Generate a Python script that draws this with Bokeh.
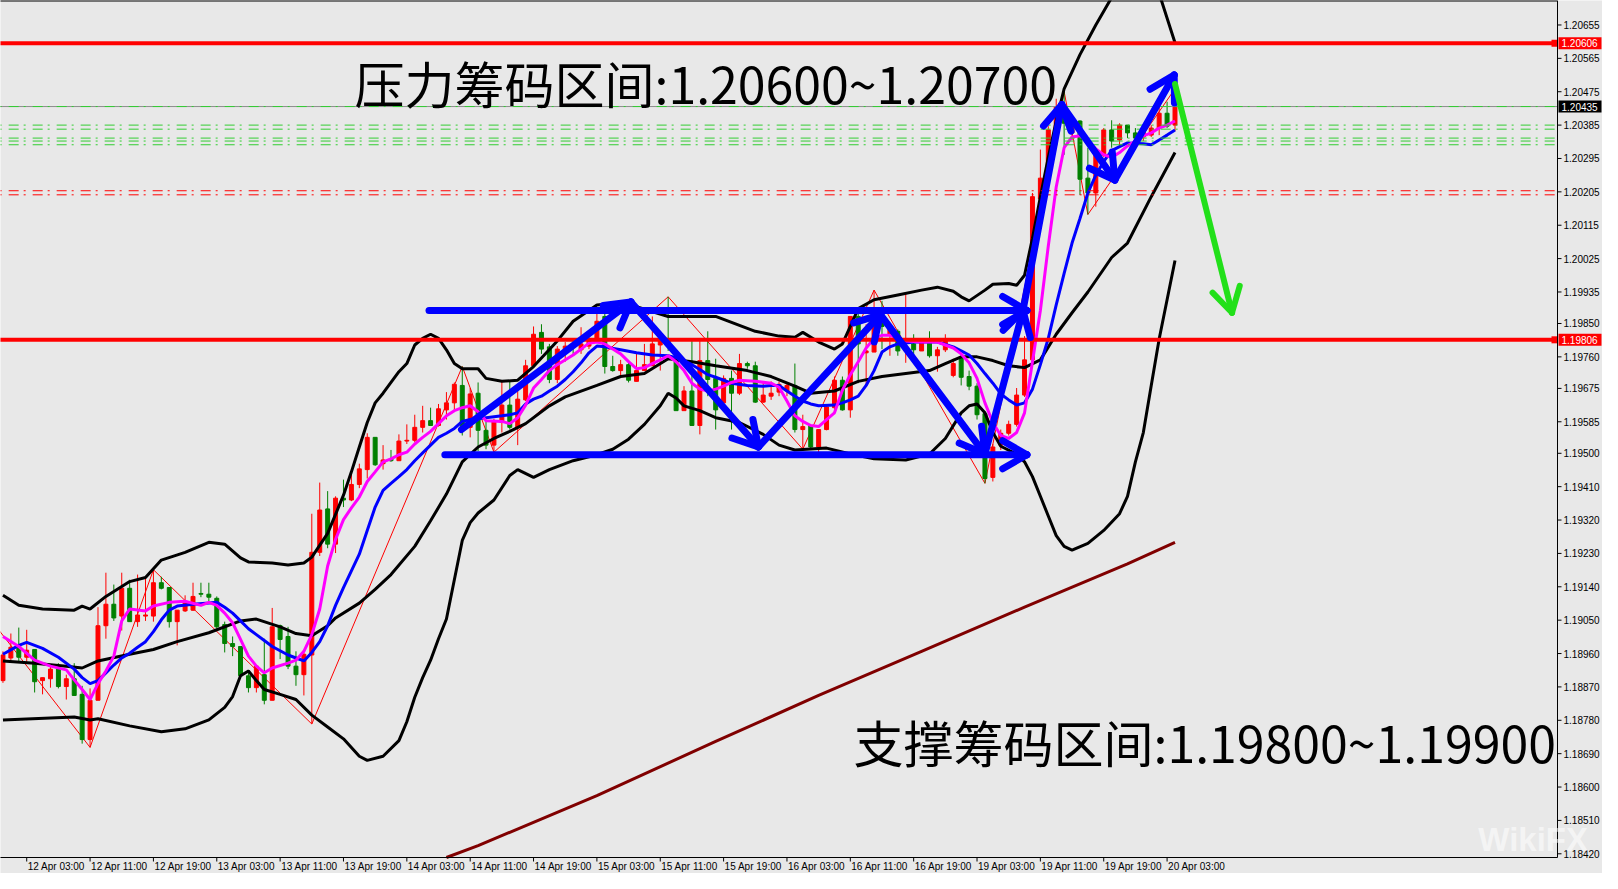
import math
from bokeh.plotting import figure
from bokeh.core.properties import value
from bokeh.embed import file_html
from bokeh.resources import INLINE

# ---------------- data (EURUSD H1) ----------------
x_tick_bars = [3, 11, 19, 27, 35, 43, 51, 59, 67, 75, 83, 91, 99, 107, 115, 123, 131, 139, 147]
x_tick_labels = ["12 Apr 03:00", "12 Apr 11:00", "12 Apr 19:00", "13 Apr 03:00",
                 "13 Apr 11:00", "13 Apr 19:00", "14 Apr 03:00", "14 Apr 11:00", "14 Apr 19:00",
                 "15 Apr 03:00", "15 Apr 11:00", "15 Apr 19:00", "16 Apr 03:00", "16 Apr 11:00",
                 "16 Apr 19:00", "19 Apr 03:00", "19 Apr 11:00", "19 Apr 19:00", "20 Apr 03:00"]
y_ticks = [1.20655, 1.20565, 1.20475, 1.20385, 1.20295, 1.20205, 1.20115, 1.20025, 1.19935,
           1.19850, 1.19760, 1.19675, 1.19585, 1.19500, 1.19410, 1.19320, 1.19230, 1.19140,
           1.19050, 1.18960, 1.18870, 1.18780, 1.18690, 1.18600, 1.18510, 1.18420]

opens = [1.18887, 1.18948, 1.18979, 1.18950, 1.18971, 1.18887, 1.18892, 1.18921, 1.18871, 1.18892,
         1.18850, 1.18728, 1.18834, 1.19035, 1.19093, 1.19061, 1.19136, 1.19046, 1.19061, 1.19061,
         1.19151, 1.19138, 1.19046, 1.19075, 1.19077, 1.19122, 1.19120, 1.19109, 1.19038, 1.18987,
         1.18979, 1.18900, 1.18868, 1.18903, 1.18834, 1.19035, 1.19006, 1.18926, 1.18903, 1.18956,
         1.19233, 1.19350, 1.19255, 1.19379, 1.19374, 1.19416, 1.19456, 1.19543, 1.19472, 1.19485,
         1.19480, 1.19533, 1.19535, 1.19570, 1.19588, 1.19575, 1.19617, 1.19636, 1.19683, 1.19570,
         1.19662, 1.19562, 1.19522, 1.19583, 1.19630, 1.19570, 1.19644, 1.19736, 1.19826, 1.19787,
         1.19699, 1.19773, 1.19795, 1.19779, 1.19789, 1.19808, 1.19869, 1.19734, 1.19723, 1.19739,
         1.19694, 1.19723, 1.19736, 1.19792, 1.19808, 1.19763, 1.19615, 1.19668, 1.19575, 1.19750,
         1.19702, 1.19636, 1.19702, 1.19662, 1.19742, 1.19736, 1.19638, 1.19654, 1.19665, 1.19668,
         1.19683, 1.19564, 1.19575, 1.19517, 1.19564, 1.19623, 1.19697, 1.19617, 1.19869, 1.19771,
         1.19773, 1.19893, 1.19821, 1.19829, 1.19776, 1.19795, 1.19776, 1.19800, 1.19763, 1.19779,
         1.19710, 1.19758, 1.19707, 1.19681, 1.19607, 1.19435, 1.19522, 1.19554, 1.19578, 1.19657,
         1.19752, 1.20186, 1.20242, 1.20372, 1.20435, 1.20364, 1.20396, 1.20242, 1.20202, 1.20303,
         1.20372, 1.20345, 1.20385, 1.20364, 1.20353, 1.20358, 1.20377, 1.20417, 1.20385]
highs = [1.18966, 1.19014, 1.19030, 1.19024, 1.18971, 1.18895, 1.18924, 1.18934, 1.18903, 1.18934,
         1.18873, 1.18866, 1.19085, 1.19178, 1.19146, 1.19178, 1.19159, 1.19173, 1.19162, 1.19186,
         1.19167, 1.19138, 1.19077, 1.19117, 1.19151, 1.19151, 1.19151, 1.19114, 1.19046, 1.19006,
         1.18979, 1.18916, 1.18929, 1.19000, 1.19083, 1.19038, 1.19032, 1.18966, 1.18966, 1.19337,
         1.19421, 1.19398, 1.19384, 1.19429, 1.19443, 1.19472, 1.19554, 1.19543, 1.19522, 1.19509,
         1.19551, 1.19578, 1.19604, 1.19628, 1.19623, 1.19633, 1.19665, 1.19691, 1.19734, 1.19676,
         1.19691, 1.19588, 1.19593, 1.19694, 1.19694, 1.19676, 1.19752, 1.19842, 1.19848, 1.19795,
         1.19789, 1.19800, 1.19808, 1.19840, 1.19816, 1.19879, 1.19877, 1.19763, 1.19752, 1.19750,
         1.19768, 1.19795, 1.19869, 1.19829, 1.19922, 1.19768, 1.19681, 1.19803, 1.19808, 1.19829,
         1.19755, 1.19710, 1.19723, 1.19768, 1.19747, 1.19747, 1.19694, 1.19694, 1.19694, 1.19689,
         1.19742, 1.19604, 1.19575, 1.19564, 1.19630, 1.19707, 1.19707, 1.19869, 1.19893, 1.19848,
         1.19940, 1.19911, 1.19840, 1.19834, 1.19930, 1.19821, 1.19808, 1.19829, 1.19787, 1.19821,
         1.19755, 1.19763, 1.19723, 1.19689, 1.19612, 1.19525, 1.19564, 1.19588, 1.19676, 1.19816,
         1.20202, 1.20319, 1.20382, 1.20456, 1.20475, 1.20398, 1.20398, 1.20324, 1.20316, 1.20377,
         1.20398, 1.20390, 1.20385, 1.20377, 1.20377, 1.20385, 1.20448, 1.20448, 1.20483]
lows = [1.18881, 1.18940, 1.18940, 1.18937, 1.18855, 1.18850, 1.18868, 1.18866, 1.18836, 1.18847,
        1.18717, 1.18707, 1.18834, 1.19000, 1.19048, 1.19022, 1.19046, 1.19032, 1.19048, 1.19046,
        1.19133, 1.19030, 1.18982, 1.19072, 1.19075, 1.19112, 1.19098, 1.19027, 1.18963, 1.18953,
        1.18897, 1.18855, 1.18855, 1.18823, 1.18834, 1.18945, 1.18918, 1.18873, 1.18847, 1.18770,
        1.19223, 1.19244, 1.19231, 1.19355, 1.19371, 1.19406, 1.19432, 1.19466, 1.19456, 1.19477,
        1.19480, 1.19525, 1.19530, 1.19556, 1.19575, 1.19572, 1.19591, 1.19615, 1.19548, 1.19543,
        1.19506, 1.19511, 1.19503, 1.19556, 1.19564, 1.19522, 1.19641, 1.19731, 1.19768, 1.19689,
        1.19689, 1.19747, 1.19768, 1.19768, 1.19781, 1.19800, 1.19715, 1.19720, 1.19710, 1.19691,
        1.19694, 1.19723, 1.19736, 1.19723, 1.19776, 1.19615, 1.19615, 1.19575, 1.19551, 1.19654,
        1.19564, 1.19630, 1.19564, 1.19657, 1.19728, 1.19636, 1.19636, 1.19644, 1.19654, 1.19654,
        1.19556, 1.19511, 1.19509, 1.19503, 1.19562, 1.19617, 1.19615, 1.19596, 1.19689, 1.19683,
        1.19773, 1.19781, 1.19763, 1.19763, 1.19744, 1.19742, 1.19776, 1.19758, 1.19720, 1.19773,
        1.19705, 1.19683, 1.19670, 1.19591, 1.19419, 1.19424, 1.19509, 1.19548, 1.19572, 1.19652,
        1.19747, 1.20184, 1.20237, 1.20364, 1.20305, 1.20345, 1.20197, 1.20144, 1.20165, 1.20298,
        1.20324, 1.20329, 1.20350, 1.20332, 1.20342, 1.20353, 1.20358, 1.20377, 1.20369]
closes = [1.18956, 1.18977, 1.18950, 1.18969, 1.18884, 1.18895, 1.18918, 1.18871, 1.18892, 1.18847,
          1.18728, 1.18834, 1.19035, 1.19093, 1.19056, 1.19136, 1.19046, 1.19064, 1.19064, 1.19151,
          1.19136, 1.19046, 1.19077, 1.19096, 1.19114, 1.19120, 1.19112, 1.19032, 1.18987, 1.18979,
          1.18900, 1.18868, 1.18926, 1.18834, 1.19032, 1.18998, 1.18926, 1.18903, 1.18958, 1.19233,
          1.19347, 1.19255, 1.19379, 1.19374, 1.19416, 1.19458, 1.19543, 1.19469, 1.19482, 1.19480,
          1.19533, 1.19535, 1.19570, 1.19588, 1.19575, 1.19620, 1.19636, 1.19686, 1.19570, 1.19660,
          1.19562, 1.19522, 1.19586, 1.19630, 1.19570, 1.19646, 1.19736, 1.19821, 1.19781, 1.19699,
          1.19781, 1.19789, 1.19787, 1.19795, 1.19808, 1.19856, 1.19734, 1.19723, 1.19739, 1.19697,
          1.19723, 1.19739, 1.19795, 1.19808, 1.19789, 1.19615, 1.19668, 1.19575, 1.19750, 1.19699,
          1.19617, 1.19702, 1.19662, 1.19742, 1.19736, 1.19638, 1.19657, 1.19662, 1.19686, 1.19683,
          1.19564, 1.19572, 1.19517, 1.19564, 1.19625, 1.19697, 1.19617, 1.19869, 1.19795, 1.19776,
          1.19877, 1.19842, 1.19834, 1.19776, 1.19787, 1.19779, 1.19805, 1.19763, 1.19779, 1.19805,
          1.19742, 1.19705, 1.19681, 1.19604, 1.19432, 1.19517, 1.19554, 1.19578, 1.19657, 1.19752,
          1.20192, 1.20242, 1.20372, 1.20435, 1.20390, 1.20390, 1.20239, 1.20202, 1.20305, 1.20372,
          1.20342, 1.20385, 1.20364, 1.20350, 1.20366, 1.20377, 1.20417, 1.20382, 1.20435]

ma_fast_bars = [0, 2, 4, 6, 8, 9, 10, 11, 12, 13, 14, 15, 16, 18, 19, 21, 23, 25, 26, 27, 28, 29, 30,
                31, 32, 33, 34, 36, 37, 38, 39, 40, 41, 42, 43, 44, 45, 46, 47, 48, 49, 50, 51, 52, 53,
                54, 55, 56, 57, 58, 59, 60, 61, 63, 64, 65, 66, 67, 68, 69, 70, 72, 73, 74, 75, 76, 77,
                78, 79, 80, 81, 82, 83, 84, 85, 86, 87, 88, 89, 90, 91, 92, 93, 95, 97, 98, 99, 100,
                101, 102, 103, 104, 105, 106, 107, 108, 109, 110, 111, 112, 113, 114, 116, 118, 119,
                120, 121, 122, 123, 124, 125, 126, 127, 128, 129, 130, 131, 132, 133, 134, 135, 136,
                137, 138, 139, 140, 141, 142, 143, 144, 145, 146, 147, 148]
ma_fast = [1.19006, 1.18979, 1.18942, 1.18926, 1.18916, 1.18889, 1.18863, 1.18836, 1.18879, 1.18913,
           1.18953, 1.19048, 1.19080, 1.19075, 1.19088, 1.19098, 1.19101, 1.19090, 1.19098, 1.19090,
           1.19069, 1.19043, 1.18998, 1.18953, 1.18926, 1.18908, 1.18921, 1.18934, 1.18942, 1.18966,
           1.19011, 1.19080, 1.19196, 1.19268, 1.19321, 1.19353, 1.19382, 1.19424, 1.19450, 1.19477,
           1.19485, 1.19496, 1.19503, 1.19525, 1.19543, 1.19559, 1.19580, 1.19601, 1.19615, 1.19623,
           1.19628, 1.19612, 1.19588, 1.19586, 1.19580, 1.19596, 1.19630, 1.19676, 1.19699, 1.19723,
           1.19739, 1.19765, 1.19781, 1.19797, 1.19800, 1.19795, 1.19781, 1.19768, 1.19747, 1.19728,
           1.19731, 1.19742, 1.19752, 1.19763, 1.19747, 1.19723, 1.19689, 1.19673, 1.19668, 1.19673,
           1.19681, 1.19691, 1.19697, 1.19694, 1.19689, 1.19678, 1.19641, 1.19601, 1.19586, 1.19575,
           1.19572, 1.19591, 1.19609, 1.19670, 1.19712, 1.19747, 1.19784, 1.19810, 1.19818, 1.19818,
           1.19810, 1.19803, 1.19800, 1.19800, 1.19792, 1.19784, 1.19768, 1.19744, 1.19702, 1.19636,
           1.19583, 1.19548, 1.19540, 1.19556, 1.19609, 1.19747, 1.19885, 1.20059, 1.20218, 1.20324,
           1.20353, 1.20356, 1.20342, 1.20321, 1.20305, 1.20298, 1.20311, 1.20329, 1.20342, 1.20356,
           1.20364, 1.20377, 1.20385, 1.20396]

ma_slow_bars = [0, 2, 3, 5, 7, 9, 10, 11, 12, 13, 14, 15, 16, 17, 18, 19, 20, 21, 22, 24, 26, 27, 28,
                29, 30, 31, 32, 33, 34, 36, 37, 38, 39, 40, 41, 42, 43, 44, 45, 46, 47, 48, 49, 50, 51,
                52, 53, 54, 55, 56, 57, 58, 59, 61, 63, 64, 65, 66, 67, 68, 69, 70, 71, 72, 73, 74, 75,
                76, 78, 80, 82, 84, 85, 86, 87, 88, 89, 90, 91, 92, 94, 96, 97, 98, 99, 100, 101, 102,
                103, 105, 106, 107, 108, 109, 110, 111, 112, 113, 115, 118, 120, 121, 122, 123, 124,
                125, 126, 127, 128, 129, 130, 131, 132, 133, 134, 135, 136, 137, 138, 139, 140, 141,
                142, 144, 145, 146, 147, 148]
ma_slow = [1.18958, 1.18982, 1.18990, 1.18974, 1.18950, 1.18918, 1.18895, 1.18879, 1.18887, 1.18908,
           1.18929, 1.18948, 1.18961, 1.18977, 1.18992, 1.19019, 1.19051, 1.19077, 1.19088, 1.19093,
           1.19096, 1.19098, 1.19085, 1.19069, 1.19048, 1.19027, 1.19011, 1.18995, 1.18979, 1.18956,
           1.18948, 1.18940, 1.18963, 1.18992, 1.19035, 1.19090, 1.19138, 1.19183, 1.19228, 1.19292,
           1.19355, 1.19400, 1.19419, 1.19437, 1.19456, 1.19480, 1.19501, 1.19522, 1.19543, 1.19554,
           1.19567, 1.19586, 1.19591, 1.19596, 1.19601, 1.19604, 1.19609, 1.19633, 1.19646, 1.19654,
           1.19668, 1.19681, 1.19699, 1.19720, 1.19744, 1.19771, 1.19789, 1.19787, 1.19779, 1.19771,
           1.19765, 1.19763, 1.19758, 1.19750, 1.19739, 1.19726, 1.19712, 1.19705, 1.19697, 1.19689,
           1.19683, 1.19681, 1.19683, 1.19683, 1.19668, 1.19654, 1.19641, 1.19633, 1.19628, 1.19630,
           1.19636, 1.19644, 1.19654, 1.19683, 1.19723, 1.19773, 1.19787, 1.19795, 1.19800, 1.19800,
           1.19787, 1.19776, 1.19765, 1.19742, 1.19715, 1.19689, 1.19660, 1.19644, 1.19630, 1.19636,
           1.19673, 1.19739, 1.19810, 1.19900, 1.19985, 1.20067, 1.20133, 1.20202, 1.20250, 1.20287,
           1.20316, 1.20327, 1.20337, 1.20335, 1.20332, 1.20345, 1.20358, 1.20372]

bb_upper_bars = [0, 2, 5, 9, 10, 11, 13, 16, 18, 20, 23, 26, 28, 30, 31, 34, 36, 38, 39, 41, 43, 44,
                 45, 46, 47, 48, 50, 51, 52, 53, 54, 55, 56, 57, 58, 60, 61, 63, 65, 67, 70, 72, 75, 79,
                 80, 84, 90, 95, 98, 100, 101, 103, 105, 106, 107, 108, 110, 113, 116, 118, 120, 121,
                 122, 124, 125, 127, 128, 129, 130, 131, 132, 133, 134, 136, 138, 140, 143, 146, 148]
bb_upper = [1.19117, 1.19090, 1.19080, 1.19077, 1.19088, 1.19080, 1.19114, 1.19154, 1.19165, 1.19212,
            1.19233, 1.19260, 1.19255, 1.19218, 1.19207, 1.19204, 1.19199, 1.19204, 1.19220, 1.19284,
            1.19387, 1.19450, 1.19517, 1.19583, 1.19636, 1.19662, 1.19720, 1.19742, 1.19792, 1.19810,
            1.19821, 1.19810, 1.19779, 1.19742, 1.19728, 1.19728, 1.19702, 1.19694, 1.19697, 1.19734,
            1.19803, 1.19856, 1.19900, 1.19908, 1.19895, 1.19869, 1.19869, 1.19829, 1.19816, 1.19813,
            1.19826, 1.19800, 1.19781, 1.19795, 1.19842, 1.19890, 1.19914, 1.19927, 1.19940, 1.19948,
            1.19937, 1.19922, 1.19911, 1.19940, 1.19956, 1.19958, 1.19953, 1.19980, 1.20080, 1.20192,
            1.20298, 1.20396, 1.20483, 1.20575, 1.20655, 1.20729, 1.20820, 1.20740, 1.20607]

bb_mid_bars = [0, 4, 8, 10, 12, 16, 19, 22, 26, 30, 32, 35, 37, 39, 41, 42, 45, 47, 49, 52, 54, 56, 58,
               60, 62, 64, 66, 69, 71, 75, 78, 81, 84, 87, 90, 94, 97, 100, 102, 105, 108, 111, 114,
               117, 119, 121, 123, 125, 127, 129, 131, 133, 135, 137, 140, 142, 145, 148]
bb_mid = [1.18940, 1.18934, 1.18926, 1.18921, 1.18940, 1.18958, 1.18971, 1.18992, 1.19016, 1.19048,
          1.19053, 1.19032, 1.19014, 1.19008, 1.19035, 1.19056, 1.19096, 1.19133, 1.19173, 1.19249,
          1.19318, 1.19390, 1.19477, 1.19517, 1.19540, 1.19559, 1.19580, 1.19628, 1.19652, 1.19683,
          1.19707, 1.19715, 1.19755, 1.19747, 1.19736, 1.19723, 1.19707, 1.19681, 1.19662, 1.19668,
          1.19694, 1.19707, 1.19715, 1.19723, 1.19742, 1.19760, 1.19760, 1.19750, 1.19736, 1.19731,
          1.19752, 1.19821, 1.19879, 1.19935, 1.20028, 1.20067, 1.20192, 1.20311]

bb_lower_bars = [0, 9, 11, 12, 16, 20, 23, 26, 28, 29, 30, 31, 32, 33, 35, 37, 39, 41, 43, 45, 46, 48,
                 50, 51, 52, 53, 54, 55, 56, 57, 58, 59, 60, 62, 64, 65, 67, 69, 72, 75, 77, 79, 81, 83,
                 84, 85, 86, 88, 90, 93, 96, 98, 100, 104, 107, 110, 114, 117, 119, 121, 122, 123, 124,
                 125, 126, 128, 129, 130, 131, 132, 133, 134, 135, 137, 139, 141, 142, 143, 144, 145,
                 146, 147, 148]
bb_lower = [1.18781, 1.18789, 1.18781, 1.18784, 1.18765, 1.18749, 1.18757, 1.18781, 1.18815, 1.18844,
            1.18900, 1.18913, 1.18887, 1.18863, 1.18850, 1.18836, 1.18794, 1.18762, 1.18730, 1.18683,
            1.18672, 1.18683, 1.18725, 1.18776, 1.18842, 1.18895, 1.18942, 1.19000, 1.19053, 1.19159,
            1.19265, 1.19313, 1.19339, 1.19374, 1.19440, 1.19456, 1.19435, 1.19456, 1.19480, 1.19496,
            1.19511, 1.19538, 1.19578, 1.19628, 1.19662, 1.19649, 1.19628, 1.19615, 1.19596, 1.19583,
            1.19551, 1.19522, 1.19509, 1.19514, 1.19498, 1.19485, 1.19482, 1.19498, 1.19540, 1.19609,
            1.19628, 1.19633, 1.19609, 1.19556, 1.19519, 1.19498, 1.19477, 1.19437, 1.19384, 1.19331,
            1.19278, 1.19249, 1.19239, 1.19257, 1.19292, 1.19337, 1.19384, 1.19477, 1.19556, 1.19683,
            1.19808, 1.19914, 1.20020]

ma_long_bars = [56, 60, 75, 90, 103, 116, 129, 142, 148]
ma_long = [1.18410, 1.18442, 1.18577, 1.18723, 1.18847, 1.18966, 1.19085, 1.19202, 1.19260]

zigzag_bars = [-2, 11, 19, 39, 58, 62, 84, 101, 110, 124, 134, 137, 148]
zigzag = [1.19064, 1.18707, 1.19186, 1.18770, 1.19734, 1.19503, 1.19922, 1.19511, 1.19940, 1.19419,
          1.20475, 1.20144, 1.20483]

resistance_level = 1.20606
support_level = 1.19806
current_price = 1.20435
green_levels = [1.20435, 1.20385, 1.20374, 1.20350, 1.20342, 1.20332]
red_levels = [1.20208, 1.20197]

# hand-drawn annotation arrows (bar, price) -> (bar, price)
arrow_x0 = [53.8, 55.8, 57.9, 79.3, 95.4, 110.8, 124.0, 128.8, 133.7, 140.4]
arrow_y0 = [1.19885, 1.19496, 1.19564, 1.19908, 1.19517, 1.19874, 1.19498, 1.19885, 1.20440, 1.20237]
arrow_x1 = [129.3, 129.3, 79.3, 95.4, 110.8, 124.0, 128.8, 133.7, 140.4, 147.9]
arrow_y1 = [1.19885, 1.19496, 1.19908, 1.19517, 1.19874, 1.19498, 1.19885, 1.20440, 1.20237, 1.20520]
green_arrow_x = [148.0, 155.2]
green_arrow_y = [1.20496, 1.19879]

text_top = "压力筹码区间:1.20600~1.20700"
text_bottom = "支撑筹码区间:1.19800~1.19900"

# ---------------- layout ----------------
X_START, X_AX = -0.31, 196.3          # visible bars; X_AX = price-axis line
Y_AX, Y_END = 1.18410, 1.20721        # bottom (time-axis line) / top of chart
W, H = 1602, 873
AX_W, AX_H = 45, 16                   # label strips
CH_W, CH_H = W - AX_W, H - AX_H
sx = CH_W / (X_AX - X_START)          # px per bar
sy = CH_H / (Y_END - Y_AX)            # px per price unit
X_RIGHT = X_START + W / sx
Y_BOTTOM = Y_AX - AX_H / sy
BG = "#e8e8e8"
AXFONT = "Liberation Sans"
AXSIZE = "10px"

p = figure(width=W, height=H, x_range=(X_START, X_RIGHT), y_range=(Y_BOTTOM, Y_END),
           x_axis_location=None, y_axis_location=None, output_backend="svg",
           toolbar_location=None, min_border=0, min_border_left=0, min_border_right=0,
           min_border_top=0, min_border_bottom=0,
           background_fill_color=BG, border_fill_color=BG, outline_line_color=None)
p.xgrid.visible = False
p.ygrid.visible = False

# zigzag (thin red)
p.line(zigzag_bars, zigzag, line_color="#ff0000", line_width=1)

# candles
idx = list(range(len(opens)))
cols = ["#ff0000" if c >= o else "#008000" for o, c in zip(opens, closes)]
tops = [max(o, c) for o, c in zip(opens, closes)]
bots = [min(o, c) for o, c in zip(opens, closes)]
p.segment(x0=idx, y0=highs, x1=idx, y1=lows, line_color=cols, line_width=1)
p.vbar(x=idx, width=0.5, top=tops, bottom=bots, fill_color=cols, line_color=cols, line_width=1)

# indicators
for bars, vals in ((bb_upper_bars, bb_upper), (bb_mid_bars, bb_mid), (bb_lower_bars, bb_lower)):
    p.line(bars, vals, line_color="black", line_width=3)
p.line(ma_long_bars, ma_long, line_color="#800000", line_width=3)
p.line(ma_slow_bars, ma_slow, line_color="#0000ff", line_width=3)
p.line(ma_fast_bars, ma_fast, line_color="#ff00ff", line_width=3)

# horizontal levels (end at the price axis)
XL0 = X_START - 2
p.segment(x0=[XL0], x1=[X_AX], y0=[current_price], y1=[current_price], line_color="#8c8c8c",
          line_width=1)
for lv in green_levels:
    p.segment(x0=[XL0], x1=[X_AX], y0=[lv], y1=[lv], line_color="#32cd32", line_width=1,
              line_dash="10 5 2 7")
for lv in red_levels:
    p.segment(x0=[XL0], x1=[X_AX], y0=[lv], y1=[lv], line_color="#ff0000", line_width=1,
              line_dash="10 5 2 7")
for lv in (resistance_level, support_level):
    p.segment(x0=[XL0], x1=[X_AX], y0=[lv], y1=[lv], line_color="#ff0000", line_width=4)
    p.quad(left=[X_AX - 6 / sx], right=[X_AX], bottom=[lv - 3.5 / sy], top=[lv + 3.5 / sy],
           fill_color="#ff0000", line_color=None)


# arrows
def barbs(x0, y0, x1, y1, L=28.0, ang=30.0):
    dx, dy = (x1 - x0) * sx, (y1 - y0) * sy
    n = math.hypot(dx, dy)
    ux, uy = -dx / n, -dy / n
    out = []
    for a in (math.radians(ang), -math.radians(ang)):
        rx = ux * math.cos(a) - uy * math.sin(a)
        ry = ux * math.sin(a) + uy * math.cos(a)
        out.append((x1 + rx * L / sx, y1 + ry * L / sy))
    return out


def draw_arrows(xs0, ys0, xs1, ys1, color, width):
    a0, b0, a1, b1 = [], [], [], []
    for x0, y0, x1, y1 in zip(xs0, ys0, xs1, ys1):
        a0.append(x0); b0.append(y0); a1.append(x1); b1.append(y1)
        for bx, by in barbs(x0, y0, x1, y1):
            a0.append(x1); b0.append(y1); a1.append(bx); b1.append(by)
    p.segment(x0=a0, y0=b0, x1=a1, y1=b1, line_color=color, line_width=width, line_cap="round")


draw_arrows(arrow_x0, arrow_y0, arrow_x1, arrow_y1, "#0000ff", 7)
draw_arrows(green_arrow_x[:1], green_arrow_y[:1], green_arrow_x[1:], green_arrow_y[1:], "#22e01a", 6)

# annotation texts
p.text(x=[44.4], y=[1.20501], text=[text_top], text_font=value("Noto Sans CJK SC"),
       text_font_size="50px", text_color="black", text_align="left", text_baseline="middle")
p.text(x=[107.4], y=[1.18723], text=[text_bottom], text_font=value("Noto Sans CJK SC"),
       text_font_size="50px", text_color="black", text_align="left", text_baseline="middle")

# ---------------- hand-built axes ----------------
# chart border lines
p.segment(x0=[X_AX], x1=[X_AX], y0=[Y_AX], y1=[Y_END], line_color="black", line_width=1)
p.segment(x0=[X_START - 1], x1=[X_AX], y0=[Y_AX], y1=[Y_AX], line_color="black", line_width=1)
p.segment(x0=[X_START - 1], x1=[X_AX], y0=[Y_END], y1=[Y_END], line_color="black", line_width=2)

# price axis ticks & labels
p.segment(x0=[X_AX] * len(y_ticks), x1=[X_AX + 4 / sx] * len(y_ticks), y0=y_ticks, y1=y_ticks,
          line_color="black", line_width=1)
p.text(x=[X_AX + 6 / sx] * len(y_ticks), y=y_ticks, text=["%.5f" % t for t in y_ticks],
       text_font=value(AXFONT), text_font_size=AXSIZE, text_color="black",
       text_align="left", text_baseline="middle")

# time axis ticks & labels
p.segment(x0=x_tick_bars, x1=x_tick_bars, y0=[Y_AX] * len(x_tick_bars),
          y1=[Y_AX - 4 / sy] * len(x_tick_bars), line_color="black", line_width=1)
p.text(x=[b + 1 / sx for b in x_tick_bars], y=[Y_AX - 3 / sy] * len(x_tick_bars), text=x_tick_labels,
       text_font=value(AXFONT), text_font_size=AXSIZE, text_color="black",
       text_align="left", text_baseline="top")

# price boxes on the axis
for lv, bg in ((resistance_level, "#ff0000"), (support_level, "#ff0000"), (current_price, "black")):
    p.quad(left=[X_AX + 1 / sx], right=[X_AX + 44 / sx], bottom=[lv - 6 / sy], top=[lv + 6 / sy],
           fill_color=bg, line_color=None)
    p.text(x=[X_AX + 4 / sx], y=[lv], text=["%.5f" % lv], text_font=value(AXFONT),
           text_font_size=AXSIZE, text_color="white", text_align="left", text_baseline="middle")

# watermark
p.text(x=[186.3], y=[1.18458], text=["WikiFX"], text_font=value(AXFONT), text_font_size="33px",
       text_font_style="bold", text_color="white", text_alpha=0.55, text_align="left",
       text_baseline="middle")

open("out.html", "w").write(file_html(p, INLINE))
